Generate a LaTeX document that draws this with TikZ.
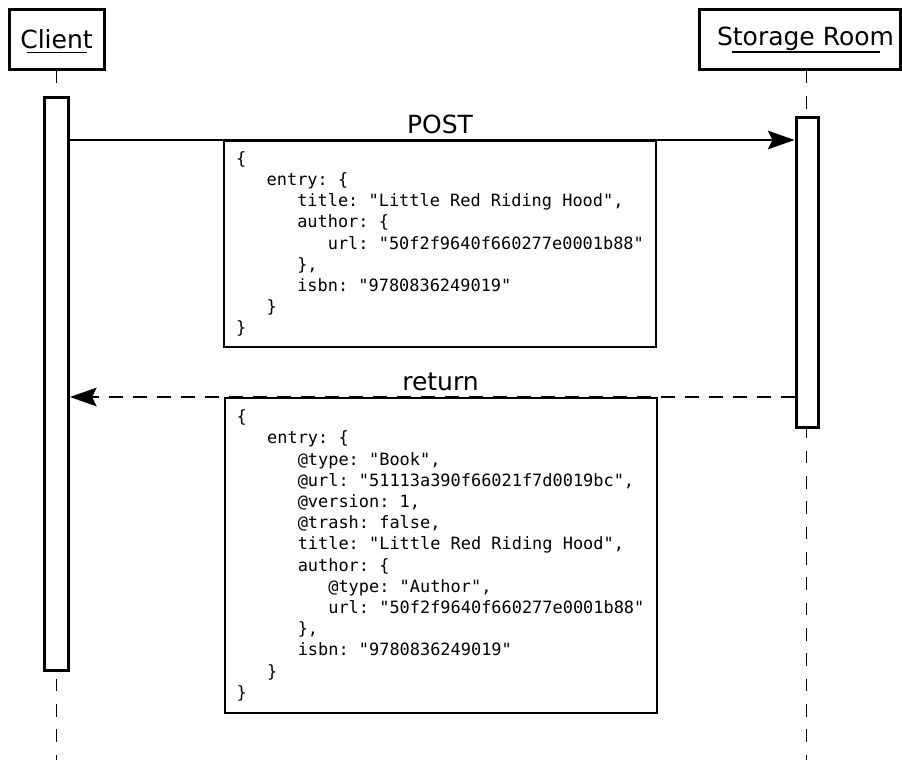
\documentclass[tikz,border=0pt]{standalone}
\usepackage{fontspec}
\setmainfont{DejaVu Sans}
\setmonofont{DejaVu Sans Mono}
\usetikzlibrary{calc,positioning,arrows.meta}
\newcommand{\ind}{\hphantom{xxx}}

\begin{document}
\begin{tikzpicture}[x=0.75pt,y=-0.75pt,
	head/.style={draw,line width=2.25pt,inner xsep=0pt,minimum height=45pt,font=\fontsize{18.75}{22}\selectfont},
	life/.style={line width=1.4pt,dash pattern=on 9.5pt off 9.5pt},
	act/.style={draw,fill=white,line width=2.25pt},
	msg/.style={draw,line width=1.5pt,align=left,minimum width=324pt,font=\fontsize{12.7}{15.9}\selectfont\ttfamily},
	lbl/.style={font=\fontsize{18.75}{22}\selectfont,inner sep=3pt},
	tip/.style={-{Stealth[length=20pt,width=14pt,inset=3.5pt]}}]
	\useasboundingbox (0,0) rectangle (902,760);
	% participants
	\node (cl) [head,minimum width=71.25pt] at (56.5,39) {Client};
	\node (sr) [head,minimum width=150.75pt] at (799.5,39) {\hspace*{9pt}Storage Room};
	\draw[line width=1.1pt] ($(cl.center)+(-30,13.5)$) -- ($(cl.center)+(30,13.5)$);
	\draw[line width=1.1pt] ($(sr.center)+(-67.5,13)$) -- ($(sr.center)+(80.5,13)$);
	% lifelines
	\coordinate (clend) at (56.5,760);
	\coordinate (srend) at (806.5,760);
	\draw[life] (cl.south) -- (clend);
	\draw[life] (sr.south -| srend) -- (srend);
	\node (ca) [act,minimum width=18pt,minimum height=429.75pt] at (56.5,383.5) {};
	\node (sa) [act,minimum width=16.5pt,minimum height=232.5pt] at (807,272) {};
	% messages
	\node (pbox) [msg,minimum height=154.5pt] at (440,244) {%
		\{\\
		\ind entry: \{\\
		\ind\ind title: "Little Red Riding Hood",\\
		\ind\ind author: \{\\
		\ind\ind\ind url: "50f2f9640f660277e0001b88"\\
		\ind\ind \},\\
		\ind\ind isbn: "9780836249019"\\
		\ind \}\\
		\}};
	\node (rbox) [msg,minimum height=236.25pt] at (440.5,555.5) {%
		\{\\
		\ind entry: \{\\
		\ind\ind @type: "Book",\\
		\ind\ind @url: "51113a390f66021f7d0019bc",\\
		\ind\ind @version: 1,\\
		\ind\ind @trash: false,\\
		\ind\ind title: "Little Red Riding Hood",\\
		\ind\ind author: \{\\
		\ind\ind\ind @type: "Author",\\
		\ind\ind\ind url: "50f2f9640f660277e0001b88"\\
		\ind\ind \},\\
		\ind\ind isbn: "9780836249019"\\
		\ind \}\\
		\}};
	\draw[line width=1.5pt,tip] (ca.east |- pbox.north) -- (sa.west |- pbox.north);
	\node[lbl,above=1.5pt of pbox] {POST};
	\draw[line width=1.5pt,dash pattern=on 10.5pt off 7.5pt,tip] (sa.west |- rbox.north) -- (ca.east |- rbox.north);
	\node[lbl,above=1.5pt of rbox] {return};
\end{tikzpicture}
\end{document}
